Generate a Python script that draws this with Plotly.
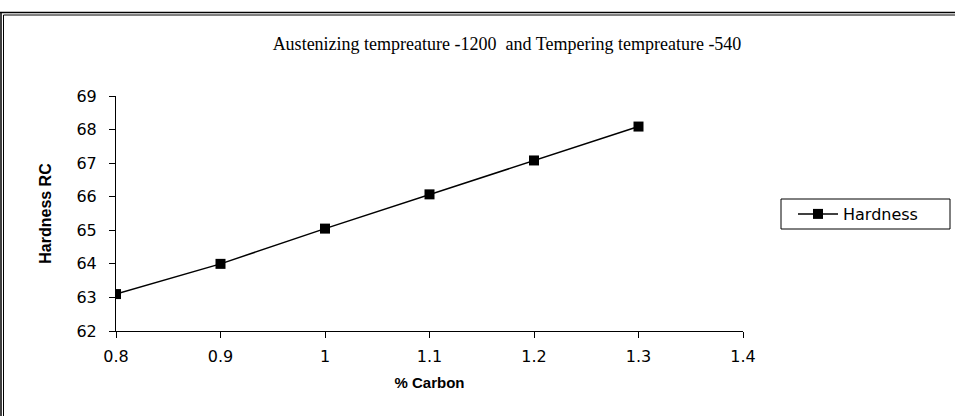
import plotly.graph_objects as go

carbon = [0.8, 0.9, 1.0, 1.1, 1.2, 1.3]
hardness = [63.1, 64.0, 65.05, 66.07, 67.08, 68.09]
series_name = "Hardness"
title_text = "Austenizing tempreature -1200  and Tempering tempreature -540"
x_title = "% Carbon"
y_title = "Hardness RC"

W, H = 955, 416
L, R, T, B = 116, 743, 96, 331  # plot area pixel bounds


def px(x):
    return (x - L) / (R - L)


def py(y):
    return (B - y) / (B - T)


fig = go.Figure()
fig.add_trace(go.Scatter(
    x=carbon, y=hardness, name=series_name, mode="lines+markers",
    line=dict(color="black", width=1.5),
    marker=dict(symbol="square", size=10, color="black"),
))

tick_font = dict(family="DejaVu Sans", size=16, color="black")

fig.update_layout(
    width=W, height=H,
    margin=dict(l=L, r=W - R, t=T, b=H - B, pad=0),
    paper_bgcolor="white", plot_bgcolor="white",
    title=dict(text=title_text, x=507 / W, xref="container", xanchor="center",
               y=1 - 44 / H, yref="container", yanchor="middle",
               font=dict(family="Liberation Serif", size=18, color="black")),
    xaxis=dict(range=[0.8, 1.4], dtick=0.1, tick0=0.8, showgrid=False, zeroline=False,
               showline=True, linecolor="black", linewidth=1,
               ticks="outside", ticklen=6, tickcolor="black", tickwidth=1,
               tickfont=tick_font, ticklabelstandoff=5,
               title=dict(text="<b>" + x_title + "</b>", standoff=12,
                          font=dict(family="Liberation Sans", size=15, color="black"))),
    yaxis=dict(range=[62, 69], dtick=1, showgrid=False, zeroline=False,
               showline=True, linecolor="black", linewidth=1,
               ticks="outside", ticklen=6, tickcolor="black", tickwidth=1,
               tickfont=tick_font, ticklabelstandoff=9,
               title=dict(text="<b>" + y_title + "</b>", standoff=20,
                          font=dict(family="Liberation Sans", size=16, color="black"))),
    showlegend=True,
    legend=dict(x=px(793), y=py(214), xanchor="left", yanchor="middle",
                bgcolor="rgba(0,0,0,0)", borderwidth=0,
                font=dict(family="DejaVu Sans", size=16, color="black"),
                itemwidth=40),
)

shapes = [
    # legend box
    dict(type="rect", xref="paper", yref="paper", x0=px(781), x1=px(950), y0=py(199), y1=py(229),
         line=dict(color="black", width=1), fillcolor="rgba(0,0,0,0)"),
    # outer frame (top and left double lines)
    dict(type="line", xref="paper", yref="paper", x0=px(0), x1=px(955), y0=py(12.5), y1=py(12.5),
         line=dict(color="black", width=1.5)),
    dict(type="line", xref="paper", yref="paper", x0=px(3.5), x1=px(955), y0=py(15), y1=py(15),
         line=dict(color="black", width=1)),
    dict(type="line", xref="paper", yref="paper", x0=px(1), x1=px(1), y0=py(12), y1=py(416),
         line=dict(color="black", width=1.5)),
    dict(type="line", xref="paper", yref="paper", x0=px(3.5), x1=px(3.5), y0=py(15), y1=py(416),
         line=dict(color="black", width=1)),
]
fig.update_layout(shapes=shapes)

fig.write_html("out.html", config={"displayModeBar": False},
               post_script="document.body.style.margin='0';")
